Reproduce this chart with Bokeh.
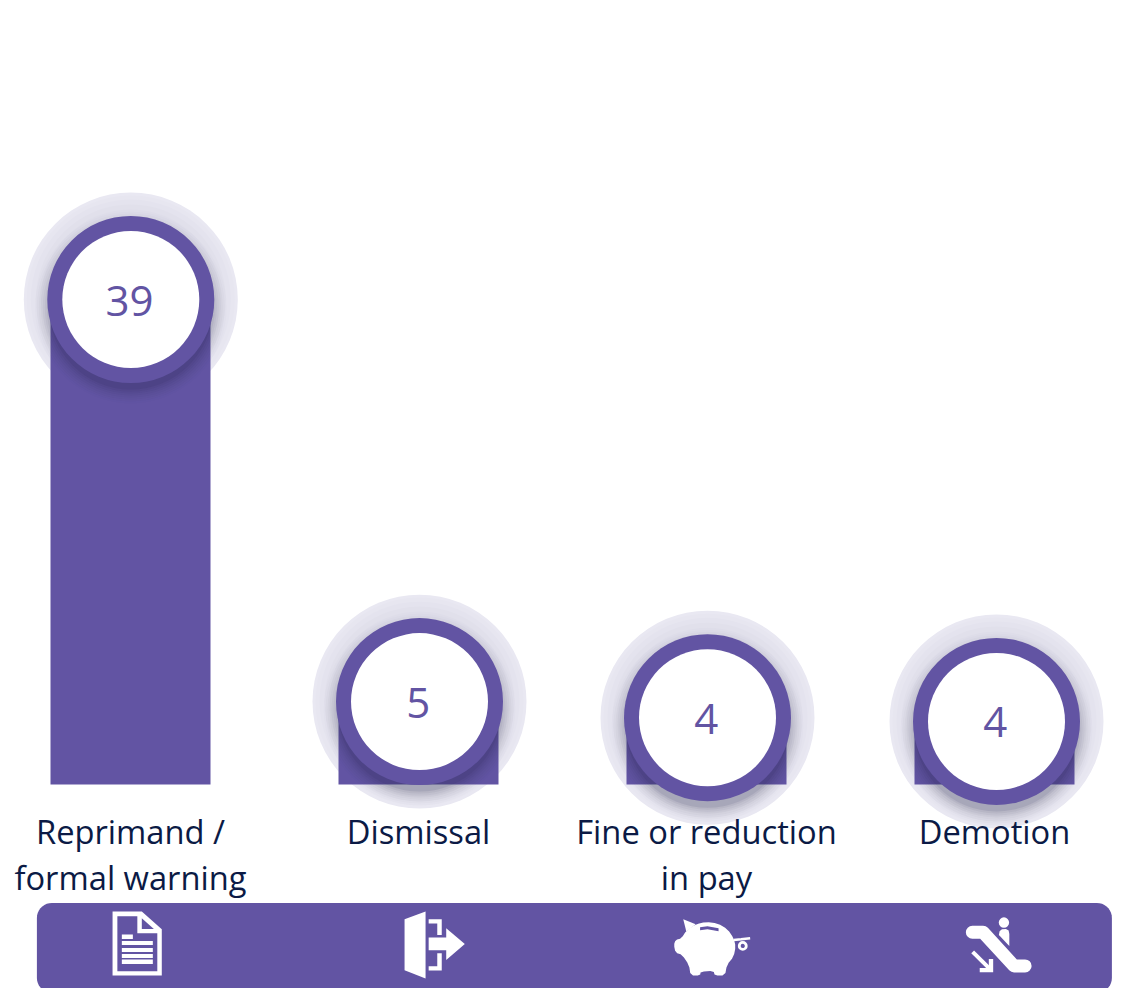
from bokeh.plotting import figure
from bokeh.models import Range1d
from bokeh.core.properties import value
from bokeh.embed import file_html
from bokeh.resources import INLINE
import math

categories = ["Reprimand /\nformal warning", "Dismissal", "Fine or reduction\nin pay", "Demotion"]
labels = ["39", "5", "4", "4"]
# height of each bar as drawn in the picture (the infographic is not strictly to scale)
bar_heights = [39.0, 6.6, 5.3, 5.0]

PURPLE = "#6254A3"
NAVY = "#0B1A45"
PX_PER_UNIT = 12.41
STEP = 288.0
W, H = 1127, 988
X0, Y0 = 130.0, 784.0
positions = list(range(len(categories)))
nudge_px = [0.3, 1.0, 1.0, 2.0]   # the circles sit slightly off their bars' centres
circle_x = [i + n / STEP for i, n in zip(positions, nudge_px)]
circle_y = [h + 1 / PX_PER_UNIT for h in bar_heights]
text_x = [x - 1.3 / STEP for x in circle_x]
text_y = [y - 1 / PX_PER_UNIT for y in circle_y]

def ux(px):
    return (px - X0) / STEP

def uy(py):
    return (Y0 - py) / PX_PER_UNIT

p = figure(width=W, height=H, output_backend="svg", toolbar_location=None,
           x_axis_type=None, y_axis_type=None, min_border=0,
           x_range=Range1d(ux(0), ux(W)), y_range=Range1d(uy(H), uy(0)),
           outline_line_color=None, background_fill_color="white", border_fill_color="white")
p.grid.visible = False
p.extra_x_ranges["px"] = Range1d(0.6, W + 0.6)
p.extra_y_ranges["px"] = Range1d(H + 0.6, 0.6)
PXR = dict(x_range_name="px", y_range_name="px")

# halo (soft gradient: lighter at the rim)
for r, c in [(107, "#E9E8F2"), (104, "#E7E6F0"), (100, "#E4E3EE"), (95, "#E1E0EB"), (90, "#DEDDE9")]:
    p.circle(circle_x, circle_y, radius=r, radius_units="screen", fill_color=c, line_color=None)

p.vbar(x=positions, top=bar_heights, bottom=0, width=160 / STEP, fill_color=PURPLE, line_color=None)

# ring drop-shadow
for r, a in [(96, 0.012), (94, 0.018), (92, 0.022), (90, 0.028), (88, 0.035), (86, 0.045), (84, 0.06), (82, 0.08)]:
    p.circle(circle_x, [h - 8 / PX_PER_UNIT for h in circle_y], radius=r, radius_units="screen",
             fill_color="#1E1A3C", fill_alpha=a, line_color=None)

p.circle(circle_x, circle_y, radius=83.5, radius_units="screen", fill_color=PURPLE, line_color=None)
p.circle(circle_x, circle_y, radius=68.5, radius_units="screen", fill_color="white", line_color=None)

p.text(text_x, text_y, text=labels, text_align="center", text_baseline="middle",
       text_color=PURPLE, text_font=value("Open Sans"), text_font_size="42px")

# category labels
for i, cat in enumerate(categories):
    for j, line in enumerate(cat.split("\n")):
        p.text([i], [uy(830.5 + 46 * j)], text=[line], text_align="center", text_baseline="middle",
               text_color=NAVY, text_font=value("Open Sans"), text_font_size="32.7px")

# rounded band
def rounded(l, t, r, b, rad):
    xs, ys = [], []
    for cx, cy, a0 in [(r - rad, t + rad, -90), (r - rad, b - rad, 0), (l + rad, b - rad, 90), (l + rad, t + rad, 180)]:
        for k in range(10):
            a = math.radians(a0 + k * 10)
            xs.append(cx + rad * math.cos(a))
            ys.append(cy + rad * math.sin(a))
    return xs, ys

bx, by = rounded(37, 903, 1112, 993, 15)
p.patch(bx, by, fill_color=PURPLE, line_color=None, **PXR)

# icons
def Z1(pts):
    return [30 + a / 2.904 for a, _ in pts], [890 + b / 3 for _, b in pts]

def Z2(pts):
    return [600 + a / 2.975 for a, _ in pts], [890 + b / 3 for _, b in pts]

def fill(pts, z=Z1, color="white"):
    xs, ys = z(pts)
    p.patch(xs, ys, fill_color=color, line_color=None, **PXR)

def smooth(pts, n=2):
    for _ in range(n):
        out = []
        for i in range(len(pts)):
            a, b = pts[i], pts[(i + 1) % len(pts)]
            out.append((a[0] * .75 + b[0] * .25, a[1] * .75 + b[1] * .25))
            out.append((a[0] * .25 + b[0] * .75, a[1] * .25 + b[1] * .75))
        pts = out
    return pts

# document
fill([(240, 65), (325, 65), (383, 118), (383, 257), (240, 257)])
fill([(254, 79), (312, 79), (312, 130), (370, 130), (370, 244), (254, 244)], color=PURPLE)
fill([(325, 85), (325, 117), (360, 117)], color=PURPLE)
for l, t, r, b in [(267, 134, 299, 147), (267, 153, 357, 165), (267, 174, 357, 186), (267, 192, 357, 204), (267, 209, 357, 222)]:
    fill([(l, t), (r, t), (r, b), (l, b)])

# door
fill([(1088, 88), (1149, 65), (1149, 266), (1088, 241)])
fill([(1158, 88), (1196, 88), (1196, 135), (1183, 135), (1183, 101), (1158, 101)])
fill([(1158, 242), (1196, 242), (1196, 190), (1183, 190), (1183, 229), (1158, 229)])
fill([(1158, 143), (1209, 143), (1209, 115), (1263, 162), (1209, 210), (1209, 181), (1158, 181)])

# piggy
body = [(285, 103), (315, 96), (350, 100), (380, 118), (398, 145), (404, 170), (398, 200), (378, 225),
        (372, 257), (342, 257), (338, 243), (300, 245), (298, 257), (270, 257), (265, 225), (245, 195),
        (225, 188), (220, 165), (225, 150), (243, 145), (257, 122)]
fill(smooth(body, 1), Z2)
fill([(248, 88), (285, 103), (257, 125)], Z2)
fill([(298, 112), (320, 109), (353, 115), (353, 124), (320, 118), (298, 121)], Z2, PURPLE)
xs, ys = Z2([(398, 150), (420, 148), (447, 145)])
p.line(xs, ys, line_color="white", line_width=2.5, **PXR)
xs, ys = Z2([(425, 168)])
p.circle(xs, ys, radius=3.5, radius_units="screen", fill_color=None, line_color="white", line_width=2.8, **PXR)

# escalator
xs, ys = Z2([(1202, 98)])
p.circle(xs, ys, radius=5.2, radius_units="screen", fill_color="white", line_color=None, **PXR)
fill([(1187, 135), (1189, 124), (1196, 118), (1208, 117), (1216, 122), (1218, 132), (1218, 168)], Z2)
xs, ys = Z2([(1108, 127), (1140, 127), (1232, 228), (1265, 228)])
p.line(xs, ys, line_color="white", line_width=13, line_cap="round", line_join="round", **PXR)
xs, ys = Z2([(1109, 186), (1160, 237)])
p.line(xs, ys, line_color="white", line_width=4, **PXR)
fill([(1130, 234), (1157, 234), (1157, 207), (1170, 207), (1170, 247), (1130, 247)], Z2)

open("out.html", "w").write(file_html(p, INLINE))
